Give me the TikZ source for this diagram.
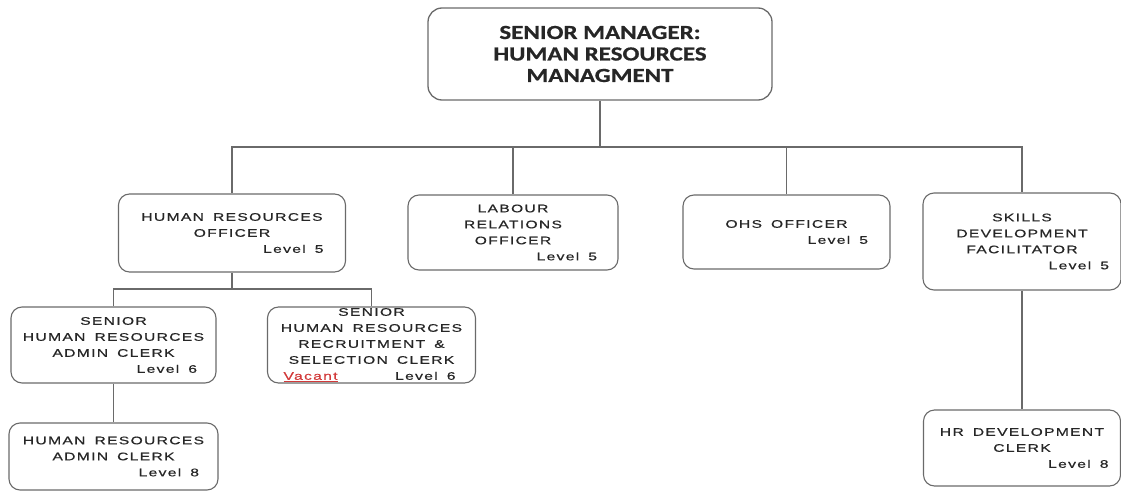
\documentclass[tikz,border=0pt]{standalone}
\usepackage{fontspec}
\newfontfamily\headfont[FakeStretch=1.25,FakeBold=0.8]{Carlito}
\newfontfamily\postfont[FakeStretch=1.42,LetterSpace=12,WordSpace=1.6,FakeBold=0.6]{Liberation Sans}
\definecolor{wiregray}{HTML}{6A6A6A}
\definecolor{inkgray}{HTML}{262626}
\definecolor{vacantred}{HTML}{D23A3A}
% grade line, pushed to the right, #2 = extra gap before the frame
\newcommand{\lvl}[2]{\hspace{0pt plus 1filll}Level #1\hspace*{#2}}
\newcommand{\nohyph}{\hyphenpenalty=10000\relax}
\tikzset{
  wire/.style={draw=wiregray, line width=1.3pt},
  headbox/.style={draw=wiregray, line width=1.3pt, rounded corners=14pt,
    align=center, text=inkgray, font=\headfont\bfseries\fontsize{20}{21.5}\selectfont},
  post/.style={draw=wiregray, line width=1.1pt, rounded corners=11pt,
    align=flush center, text=inkgray, inner xsep=8pt, inner ysep=0pt,
    font=\postfont\fontsize{11}{16}\selectfont\nohyph},
}
\begin{document}
\begin{tikzpicture}[x=1pt,y=-1pt]
\useasboundingbox (0,0) rectangle (1121,500);

% head of department
\node[headbox, minimum width=344pt, minimum height=92pt] (mgr) at (600,54)
  {SENIOR MANAGER:\\HUMAN RESOURCES\\MANAGMENT};

% second level
\node[post, text width=211pt, minimum height=78pt] (hro) at (232,233)
  {HUMAN RESOURCES\\OFFICER\\\lvl{5}{14pt}};
\node[post, text width=194pt, minimum height=75pt] (lro) at (513,232.5)
  {LABOUR\\RELATIONS\\OFFICER\\\lvl{5}{13pt}};
\node[post, text width=191pt, minimum height=74pt] (ohs) at (786.5,232)
  {OHS OFFICER\\\lvl{5}{14pt}};
\node[post, text width=182pt, minimum height=97pt] (sdf) at (1022,241.5)
  {SKILLS\\DEVELOPMENT\\FACILITATOR\\\lvl{5}{4pt}};

% third level
\node[post, text width=189pt, minimum height=76pt] (shrac) at (113.5,345)
  {SENIOR\\HUMAN RESOURCES\\ADMIN CLERK\\\lvl{6}{11pt}};
\node[post, text width=192pt, minimum height=76pt] (shrrc) at (371.5,345)
  {SENIOR\\HUMAN RESOURCES\\RECRUITMENT \&\\SELECTION CLERK\\
   \hspace*{8pt}\textcolor{vacantred}{\underline{Vacant}}\lvl{6}{12pt}};

% fourth level
\node[post, text width=193pt, minimum height=67pt] (hrac) at (113.5,456.5)
  {HUMAN RESOURCES\\ADMIN CLERK\\\lvl{8}{11pt}};
\node[post, text width=181pt, minimum height=76pt] (hrdc) at (1022,448)
  {HR DEVELOPMENT\\CLERK\\\lvl{8}{4pt}};

% reporting lines
\coordinate (bus) at (600,147);
\coordinate (bus2) at (232,289);
\draw[wire] (mgr.south) -- (bus);
\draw[wire] (hro.north) |- (bus) -| (sdf.north);
\draw[wire] (lro.north) -- (lro.north |- bus);
\draw[wire] (ohs.north) -- (ohs.north |- bus);
\draw[wire] (hro.south) -- (bus2);
\draw[wire] (shrac.north) |- (bus2) -| (shrrc.north);
\draw[wire] (shrac.south) -- (hrac.north);
\draw[wire] (sdf.south) -- (hrdc.north);
\end{tikzpicture}
\end{document}
